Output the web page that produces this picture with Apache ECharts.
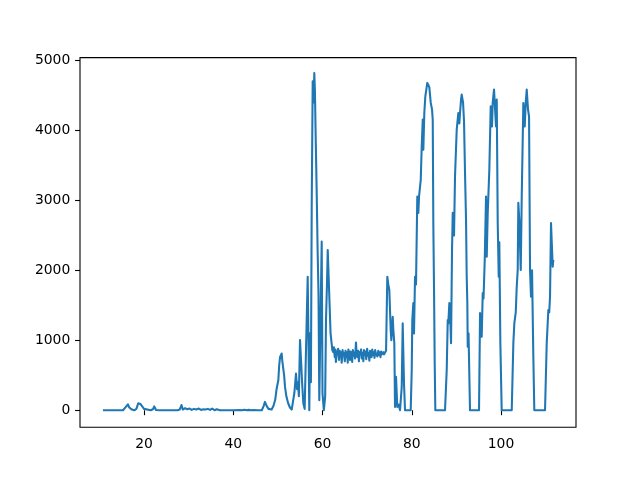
<!DOCTYPE html>
<html>
<head>
<meta charset="utf-8">
<script src="https://cdn.jsdelivr.net/npm/echarts@6/dist/echarts.min.js"></script>
<style>html,body{margin:0;padding:0;background:#fff}#c{width:640px;height:480px}</style>
</head>
<body>
<div id="c"></div>
<script>
// x positions (data units)
var xs = [
10.8,11.5,12.5,13.5,14.5,15.3,15.7,16.0,16.4,16.7,17.0,17.3,17.8,18.3,18.7,19.2,19.6,20.0,20.4,21.5,22.0,22.3,22.7,23.5,25.0,26.5,27.5,28.0,28.4,28.7,29.2,29.7,30.2,30.7,31.2,31.7,32.3,32.8,33.3,33.8,34.3,34.8,35.3,35.8,36.3,37.0,38.5,40.0,41.5,42.0,42.5,43.0,43.5,44.0,44.5,45.5,46.4,46.8,47.1,47.5,47.9,48.2,48.6,49.0,49.4,49.7,50.1,50.3,50.5,50.85,51.0,51.2,51.4,51.6,51.9,52.3,52.7,53.1,53.4,53.7,54.06,54.3,54.5,54.7,54.96,55.2,55.4,55.7,56.0,56.3,56.68,57.04,57.2,57.4,57.58,57.8,58.0,58.16,58.3,58.5,58.7,58.9,59.1,59.28,59.55,59.82,60.0,60.3,60.6,60.78,61.0,61.17,61.45,61.8,62.2,
62.4,62.55,62.75,62.9,63.0,63.2,63.35,63.5,63.7,63.85,64.0,64.15,64.3,64.5,64.65,64.8,65.0,65.15,65.3,65.5,65.65,65.8,66.0,66.15,66.3,66.5,66.65,66.8,67.0,67.15,67.3,67.5,67.65,67.8,68.0,68.15,68.3,68.5,68.65,68.8,69.0,69.15,69.3,69.5,69.65,69.8,70.0,70.15,70.3,70.5,70.65,70.8,71.0,71.15,71.3,71.5,71.65,71.8,72.0,72.15,72.3,72.5,72.65,72.8,73.0,73.15,73.3,73.5,73.65,73.8,74.0,74.24,
74.52,74.74,74.97,75.28,75.42,75.73,75.87,76.09,76.25,76.47,76.76,77.08,77.37,77.75,77.97,78.15,78.26,78.49,79.76,79.99,80.12,80.35,80.5,80.73,80.95,81.24,81.47,81.63,82.01,82.23,82.46,82.59,82.81,83.04,83.48,83.71,83.93,84.25,84.54,84.7,84.83,84.99,85.14,85.28,87.45,
87.83,88.06,88.19,88.42,88.58,88.8,89.02,89.18,89.47,89.69,90.07,90.43,90.66,90.81,91.04,91.19,91.49,91.71,91.93,92.16,92.31,92.45,92.54,92.72,93.05,95.07,
95.3,95.67,95.9,96.08,96.35,96.64,96.8,97.02,97.38,97.69,97.98,98.14,98.43,98.66,98.88,99.04,99.26,99.49,99.62,99.85,100.15,102.4,
102.76,102.98,103.3,103.52,103.74,103.88,104.1,104.42,104.64,105.0,105.31,105.54,105.76,106.05,106.28,106.5,106.72,106.95,107.24,107.46,109.86,
110.24,110.6,110.8,110.98,111.2,111.43,111.58,111.72
];
// y values
var ys = [
0,0,0,0,0,0,30,15,85,40,60,10,0,20,100,90,105,20,0,0,15,55,5,0,0,0,0,10,75,10,30,15,25,5,20,10,25,5,15,10,20,5,25,0,15,0,0,0,5,0,8,0,6,0,5,0,0,60,120,60,20,40,10,60,150,300,430,650,764,812,700,692,500,334,200,100,40,10,30,250,525,300,400,200,1003,700,430,100,20,0,1910,0,1100,400,2913,4704,4400,4823,4560,3800,3108,2300,1676,143,1300,2411,243,0,200,1290,1800,2292,1767,1103,860,
830,900,760,870,690,840,800,880,720,850,770,830,680,860,790,820,700,850,760,830,680,870,790,720,840,800,690,860,780,820,740,970,800,760,850,700,830,800,870,740,820,700,860,790,840,730,880,780,820,710,850,800,760,870,790,830,750,860,800,820,770,850,790,830,760,840,800,780,830,800,820,850,
1910,1800,1719,1146,1003,1337,1146,960,47,477,47,80,0,334,1242,700,382,0,0,573,1290,1533,1098,1910,1800,3056,2822,3056,3295,3772,4155,3725,4250,4489,4680,4650,4620,4398,4300,4155,2675,1719,670,0,0,
573,1290,1242,1533,1400,960,2292,2822,2500,3343,4011,4250,4100,4250,4441,4513,4400,4130,3400,2722,1910,1533,907,1100,0,0,
1390,1050,1676,1600,2149,3056,2196,2822,3438,4345,4059,4398,4585,4585,4059,4441,2675,1910,2400,960,0,0,
960,1242,1400,1767,2006,2965,2700,2006,3056,4394,4059,4398,4585,4300,4200,2006,1623,2000,764,0,0,
960,1433,1400,1623,2675,2650,2053,2149
];
var xTicks = [20, 40, 60, 80, 100];
var yTicks = [0, 1000, 2000, 3000, 4000, 5000];

var data = xs.map(function (x, i) { return [x, ys[i]]; });
var chart = echarts.init(document.getElementById('c'), null, {renderer: 'canvas'});
function plain(v) { return String(v); }
var labelStyle = {color: '#000', fontFamily: 'DejaVu Sans', fontSize: 13.9, margin: 9.7, formatter: plain};
chart.setOption({
  animation: false,
  backgroundColor: '#fff',
  grid: {left: 80, right: 64, top: 57.6, bottom: 52.8, show: true, borderColor: '#000', borderWidth: 1.1, backgroundColor: 'transparent'},
  xAxis: {
    type: 'value', min: 5.66, max: 116.8,
    axisLine: {show: false},
    splitLine: {show: false},
    axisTick: {show: true, length: 4.9, lineStyle: {color: '#000', width: 1.1}, customValues: xTicks},
    axisLabel: Object.assign({customValues: xTicks, showMinLabel: true, showMaxLabel: true}, labelStyle)
  },
  yAxis: {
    type: 'value', min: -242, max: 5042,
    axisLine: {show: false},
    splitLine: {show: false},
    axisTick: {show: true, length: 4.9, lineStyle: {color: '#000', width: 1.1}, customValues: yTicks},
    axisLabel: Object.assign({customValues: yTicks}, labelStyle)
  },
  series: [{
    type: 'line', data: data, showSymbol: false, symbol: 'none',
    lineStyle: {color: '#1f77b4', width: 2.08, join: 'round', cap: 'butt'},
    z: 3
  }]
});
</script>
</body>
</html>
